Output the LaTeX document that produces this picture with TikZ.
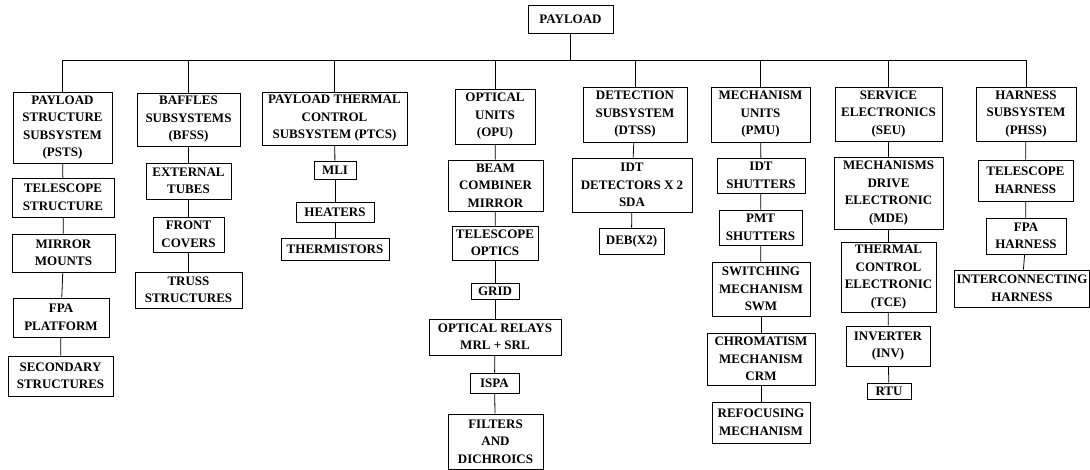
\documentclass[tikz,border=0pt]{standalone}
\usepackage{fontspec}
\setmainfont{Liberation Serif}

\begin{document}
\begin{tikzpicture}[x=1pt,y=-1pt,line width=0.8pt,
  unit/.style={draw,align=center,inner xsep=2pt,inner ysep=1.5pt,
    font=\fontsize{13}{17.5}\selectfont\bfseries}]
  \useasboundingbox (0,0) rectangle (1090,470);
  \coordinate (bus) at (0,60);

  \node[unit,minimum width=85pt,minimum height=28pt] (payload) at (570.5,19) {PAYLOAD};

  % payload structure
  \node[unit,minimum width=99pt,minimum height=71pt]  (psts)   at (62.5,127.5) {PAYLOAD\\STRUCTURE\\SUBSYSTEM\\(PSTS)};
  \node[unit,minimum width=102pt,minimum height=39pt] (telstr) at (63,197.5)   {TELESCOPE\\STRUCTURE};
  \node[unit,minimum width=103pt,minimum height=38pt] (mirmnt) at (63.5,253)   {MIRROR\\MOUNTS};
  \node[unit,minimum width=96pt,minimum height=39pt]  (fpaplt) at (61,317.5)   {FPA\\PLATFORM};
  \node[unit,minimum width=105pt,minimum height=40pt] (secstr) at (60.5,376)   {SECONDARY\\STRUCTURES};

  % baffles
  \node[unit,minimum width=103pt,minimum height=53pt] (bfss)   at (188.5,119.5) {BAFFLES\\SUBSYSTEMS\\(BFSS)};
  \node[unit,minimum width=85pt,minimum height=36pt]  (exttub) at (188.5,181)   {EXTERNAL\\TUBES};
  \node[unit,minimum width=71pt,minimum height=35pt]  (frncov) at (188.5,234.5) {FRONT\\COVERS};
  \node[unit,minimum width=107pt,minimum height=36pt] (truss)  at (188.5,290)   {TRUSS\\STRUCTURES};

  % thermal control
  \node[unit,minimum width=145pt,minimum height=53pt] (ptcs)    at (334.5,118.5) {PAYLOAD THERMAL\\CONTROL\\SUBSYSTEM (PTCS)};
  \node[unit,minimum width=42pt,minimum height=18pt]  (mli)     at (335,170)     {MLI};
  \node[unit,minimum width=78pt,minimum height=20pt]  (heaters) at (335,212)     {HEATERS};
  \node[unit,minimum width=108pt,minimum height=22pt] (therm)   at (335,249)     {THERMISTORS};

  % optical units
  \node[unit,minimum width=80pt,minimum height=55pt]  (opu)     at (495,116.5)   {OPTICAL\\UNITS\\(OPU)};
  \node[unit,minimum width=95pt,minimum height=51pt]  (beam)    at (495.5,185.5) {BEAM\\COMBINER\\MIRROR};
  \node[unit,minimum width=86pt,minimum height=34pt]  (telopt)  at (495,243)     {TELESCOPE\\OPTICS};
  \node[unit,minimum width=48pt,minimum height=16pt]  (grid)    at (495,291)     {GRID};
  \node[unit,minimum width=132pt,minimum height=36pt] (relays)  at (495,337)     {OPTICAL RELAYS\\MRL + SRL};
  \node[unit,minimum width=49pt,minimum height=20pt]  (ispa)    at (494.5,383)   {ISPA};
  \node[unit,minimum width=95pt,minimum height=55pt]  (filters) at (495.5,441.5) {FILTERS\\AND\\DICHROICS};

  % detection
  \node[unit,minimum width=104pt,minimum height=55pt] (dtss)   at (635,114.5) {DETECTION\\SUBSYSTEM\\(DTSS)};
  \node[unit,minimum width=120pt,minimum height=54pt] (idtdet) at (632,185)   {IDT\\DETECTORS X 2\\SDA};
  \node[unit,minimum width=65pt,minimum height=26pt]  (deb)    at (631.5,241) {DEB(X2)};

  % mechanisms
  \node[unit,minimum width=99pt,minimum height=55pt]  (pmu)    at (760.5,114.5) {MECHANISM\\UNITS\\(PMU)};
  \node[unit,minimum width=88pt,minimum height=35pt]  (idtsht) at (761,175.5)   {IDT\\SHUTTERS};
  \node[unit,minimum width=83pt,minimum height=35pt]  (pmtsht) at (760.5,227.5) {PMT\\SHUTTERS};
  \node[unit,minimum width=98pt,minimum height=54pt]  (swm)    at (761,289)     {SWITCHING\\MECHANISM\\SWM};
  \node[unit,minimum width=108pt,minimum height=52pt] (crm)    at (761,359)     {CHROMATISM\\MECHANISM\\CRM};
  \node[unit,minimum width=98pt,minimum height=41pt]  (refoc)  at (761,422.5)   {REFOCUSING\\MECHANISM};

  % service electronics
  \node[unit,minimum width=107pt,minimum height=54pt] (seu) at (888.5,114) {SERVICE\\ELECTRONICS\\(SEU)};
  \node[unit,minimum width=109pt,minimum height=72pt] (mde) at (888.5,193) {MECHANISMS\\DRIVE\\ELECTRONIC\\(MDE)};
  \node[unit,minimum width=95pt,minimum height=70pt]  (tce) at (888.5,277) {THERMAL\\CONTROL\\ELECTRONIC\\(TCE)};
  \node[unit,minimum width=84pt,minimum height=40pt]  (inv) at (888,346)   {INVERTER\\(INV)};
  \node[unit,minimum width=44pt,minimum height=16pt]  (rtu) at (889,391)   {RTU};

  % harness
  \node[unit,minimum width=100pt,minimum height=54pt] (phss)   at (1026,114)   {HARNESS\\SUBSYSTEM\\(PHSS)};
  \node[unit,minimum width=95pt,minimum height=41pt]  (telhar) at (1025.5,180.5) {TELESCOPE\\HARNESS};
  \node[unit,minimum width=80pt,minimum height=36pt]  (fpahar) at (1026,236)   {FPA\\HARNESS};
  \node[unit,minimum width=132pt,minimum height=37pt] (inthar) at (1022,288.5) {INTERCONNECTING\\HARNESS};

  \draw (payload) -- (payload |- bus);
  \draw (psts |- bus) -- (phss |- bus);
  \foreach \h in {psts,bfss,ptcs,opu,dtss,pmu,seu,phss}
    \draw (\h) -- (\h |- bus);

  \foreach \a/\b in {psts/telstr,telstr/mirmnt,mirmnt/fpaplt,fpaplt/secstr,
      bfss/exttub,exttub/frncov,frncov/truss,
      ptcs/mli,mli/heaters,heaters/therm,
      opu/beam,beam/telopt,telopt/grid,grid/relays,relays/ispa,ispa/filters,
      dtss/idtdet,idtdet/deb,
      pmu/idtsht,idtsht/pmtsht,pmtsht/swm,swm/crm,crm/refoc,
      seu/mde,mde/tce,tce/inv,inv/rtu,
      phss/telhar,telhar/fpahar,fpahar/inthar}
    \draw (\a) -- (\b);
\end{tikzpicture}
\end{document}
